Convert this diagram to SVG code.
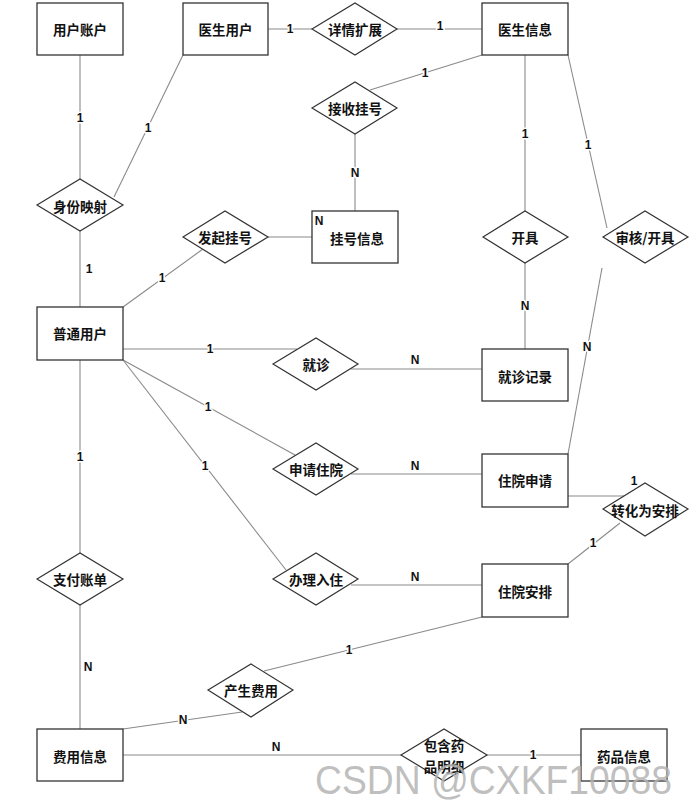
<svg xmlns="http://www.w3.org/2000/svg" width="690" height="802" viewBox="0 0 690 802">
<style>
.ent{fill:#fff;stroke:#333;stroke-width:1.3}
.rel{fill:#fff;stroke:#333;stroke-width:1.2}
.t{font-family:"Noto Sans CJK SC","Noto Sans",sans-serif;font-weight:bold;font-size:13.5px;fill:#111;text-anchor:middle;dominant-baseline:central}
.ln{stroke:#8a8a8a;stroke-width:1.1;fill:none}
.lb{font-family:"Liberation Sans","DejaVu Sans",sans-serif;font-weight:bold;font-size:12px;fill:#111;text-anchor:middle;dominant-baseline:central;stroke:#fff;stroke-width:3px;paint-order:stroke;stroke-linejoin:round}
.wm{font-family:"Liberation Sans",sans-serif;font-size:40px;fill:#b4b4b4;fill-opacity:0.85}
</style>
<rect width="690" height="802" fill="#fff"/>
<g id="connectors">
<line class="ln" x1="80" y1="55" x2="80" y2="179"/>
<line class="ln" x1="183" y1="55" x2="114" y2="197"/>
<line class="ln" x1="80" y1="231" x2="80" y2="307"/>
<line class="ln" x1="123" y1="307" x2="203" y2="249"/>
<line class="ln" x1="268" y1="237" x2="312" y2="237"/>
<line class="ln" x1="268" y1="29" x2="312" y2="29"/>
<line class="ln" x1="397" y1="29" x2="482" y2="29"/>
<line class="ln" x1="482" y1="55" x2="370" y2="90"/>
<line class="ln" x1="355" y1="134" x2="355" y2="211"/>
<line class="ln" x1="525" y1="55" x2="525" y2="211"/>
<line class="ln" x1="525" y1="263" x2="525" y2="349"/>
<line class="ln" x1="568" y1="55" x2="607" y2="228"/>
<line class="ln" x1="602" y1="268" x2="568" y2="454"/>
<line class="ln" x1="123" y1="349" x2="297" y2="349"/>
<line class="ln" x1="351" y1="369" x2="482" y2="369"/>
<line class="ln" x1="123" y1="360" x2="295" y2="455"/>
<line class="ln" x1="123" y1="360" x2="286" y2="570"/>
<line class="ln" x1="351" y1="474" x2="482" y2="474"/>
<line class="ln" x1="351" y1="585" x2="482" y2="585"/>
<line class="ln" x1="568" y1="496" x2="624" y2="496"/>
<line class="ln" x1="620" y1="523" x2="568" y2="564"/>
<line class="ln" x1="482" y1="617" x2="264" y2="671"/>
<line class="ln" x1="242" y1="712" x2="123" y2="729"/>
<line class="ln" x1="80" y1="360" x2="80" y2="553"/>
<line class="ln" x1="80" y1="605" x2="80" y2="729"/>
<line class="ln" x1="123" y1="755" x2="401" y2="755"/>
<line class="ln" x1="487" y1="755" x2="581" y2="755"/>
</g>
<g id="cardinalities">
<text class="lb" x="80" y="118">1</text>
<text class="lb" x="148" y="128">1</text>
<text class="lb" x="89" y="269">1</text>
<text class="lb" x="162" y="278">1</text>
<text class="lb" x="290" y="29">1</text>
<text class="lb" x="440" y="26">1</text>
<text class="lb" x="425" y="73">1</text>
<text class="lb" x="355" y="173">N</text>
<text class="lb" x="525" y="134">1</text>
<text class="lb" x="525" y="306">N</text>
<text class="lb" x="588" y="145">1</text>
<text class="lb" x="587" y="347">N</text>
<text class="lb" x="210" y="349">1</text>
<text class="lb" x="415" y="360">N</text>
<text class="lb" x="208" y="407">1</text>
<text class="lb" x="205" y="466">1</text>
<text class="lb" x="415" y="466">N</text>
<text class="lb" x="415" y="577">N</text>
<text class="lb" x="634" y="481">1</text>
<text class="lb" x="593" y="543">1</text>
<text class="lb" x="349" y="650">1</text>
<text class="lb" x="183" y="720">N</text>
<text class="lb" x="80" y="457">1</text>
<text class="lb" x="88" y="667">N</text>
<text class="lb" x="276" y="747">N</text>
<text class="lb" x="533" y="755">1</text>
</g>
<g id="e_yhzh"><rect class="ent" x="37" y="3" width="86" height="52"/><text class="t" x="80" y="29">用户账户</text></g>
<g id="e_ysyh"><rect class="ent" x="183" y="3" width="85" height="52"/><text class="t" x="225.5" y="29">医生用户</text></g>
<g id="e_ysxx"><rect class="ent" x="482" y="3" width="86" height="52"/><text class="t" x="525" y="29">医生信息</text></g>
<g id="e_ghxx"><rect class="ent" x="312" y="211" width="86" height="52"/><text class="t" x="357" y="238">挂号信息</text><text class="lb" x="319" y="221" style="stroke:none">N</text></g>
<g id="e_ptyh"><rect class="ent" x="37" y="307" width="86" height="53"/><text class="t" x="80" y="333">普通用户</text></g>
<g id="e_jzjl"><rect class="ent" x="482" y="349" width="86" height="52"/><text class="t" x="525" y="376">就诊记录</text></g>
<g id="e_zysq"><rect class="ent" x="482" y="454" width="86" height="53"/><text class="t" x="525" y="480">住院申请</text></g>
<g id="e_zyap"><rect class="ent" x="482" y="564" width="86" height="53"/><text class="t" x="525" y="591">住院安排</text></g>
<g id="e_fyxx"><rect class="ent" x="37" y="729" width="86" height="52"/><text class="t" x="80" y="756">费用信息</text></g>
<g id="e_ypxx"><rect class="ent" x="581" y="729" width="86" height="52"/><text class="t" x="624" y="756">药品信息</text></g>
<g id="r_sfys"><polygon class="rel" points="37,205 80,179 123,205 80,231"/><text class="t" x="80" y="206">身份映射</text></g>
<g id="r_xqkz"><polygon class="rel" points="312,29 355,3 397,29 355,55"/><text class="t" x="355" y="29">详情扩展</text></g>
<g id="r_jsgh"><polygon class="rel" points="312,108 355,82 397,108 355,134"/><text class="t" x="355" y="108">接收挂号</text></g>
<g id="r_fqgh"><polygon class="rel" points="183,237 225,211 268,237 225,263"/><text class="t" x="225" y="237">发起挂号</text></g>
<g id="r_kj"><polygon class="rel" points="483,237 525,211 568,237 525,263"/><text class="t" x="525" y="237">开具</text></g>
<g id="r_shkj"><polygon class="rel" points="603,237 645,211 688,237 645,263"/><text class="t" x="645" y="237">审核/开具</text></g>
<g id="r_jz"><polygon class="rel" points="273,364 316,338 358,364 316,390"/><text class="t" x="316" y="364">就诊</text></g>
<g id="r_sqzy"><polygon class="rel" points="273,469 316,443 358,469 316,495"/><text class="t" x="316" y="469">申请住院</text></g>
<g id="r_blrz"><polygon class="rel" points="273,579 316,553 358,579 316,605"/><text class="t" x="316" y="579">办理入住</text></g>
<g id="r_zhwap"><polygon class="rel" points="603,509 645,483 688,509 645,536"/><text class="t" x="645" y="510">转化为安排</text></g>
<g id="r_zfzd"><polygon class="rel" points="37,579 80,553 123,579 80,605"/><text class="t" x="80" y="579">支付账单</text></g>
<g id="r_csfy"><polygon class="rel" points="208,690 251,664 293,690 251,717"/><text class="t" x="251" y="690">产生费用</text></g>
<g id="r_bhypmx"><polygon class="rel" points="401,755 444,729 487,755 444,781"/><text class="t" x="444" y="745">包含药</text><text class="t" x="444" y="766">品明细</text></g>
<text class="wm" x="315" y="794" textLength="357" lengthAdjust="spacingAndGlyphs">CSDN @CXKF10088</text>
</svg>
